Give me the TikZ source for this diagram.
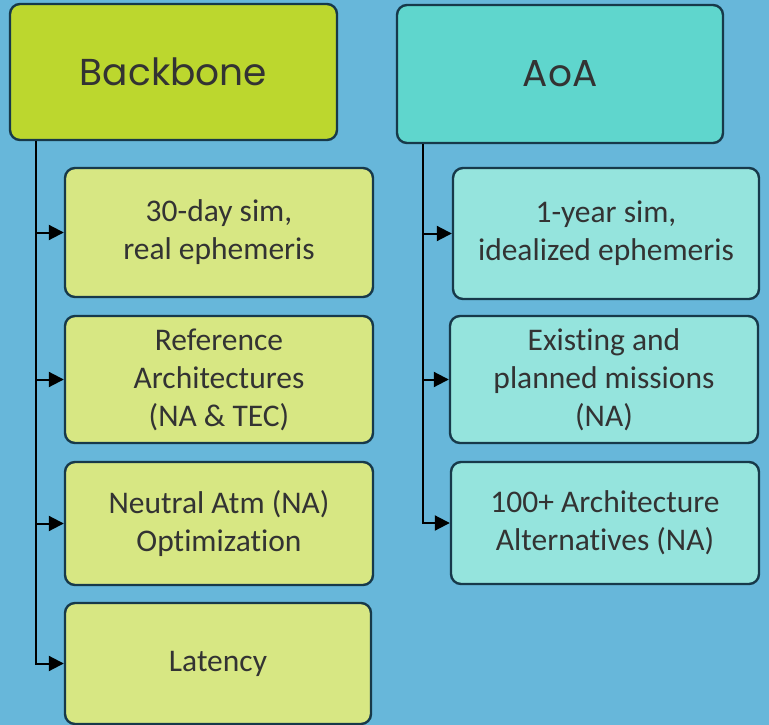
\documentclass[tikz,border=0pt]{standalone}
\usepackage{fontspec}
\setmainfont{Carlito}[Ligatures=NoCommon]
\newfontfamily\headfont{Poppins}
\usetikzlibrary{arrows.meta}
\definecolor{bgblue}{HTML}{67B7DA}
\definecolor{bbfill}{HTML}{BCD72E}
\definecolor{aoafill}{HTML}{5FD6CD}
\definecolor{bbchild}{HTML}{D7E783}
\definecolor{aoachild}{HTML}{95E4DD}
\definecolor{edge}{HTML}{17394A}
\definecolor{txt}{HTML}{333333}
\tikzset{
  box/.style={draw=edge, line width=2.4pt, rounded corners=10pt, text=txt, align=center, inner sep=0pt},
  head/.style={box, font=\headfont\fontsize{37.5}{42}\selectfont},
  child/.style={box, font=\fontsize{31.5}{38}\selectfont},
  conn/.style={draw=black, line width=2pt, -{Triangle[length=15pt,width=15pt]}},
}
\begin{document}
\begin{tikzpicture}[x=1pt,y=-1pt]
\fill[bgblue] (0,0) rectangle (769,725);
\useasboundingbox (0,0) rectangle (769,725);
% Backbone
\node[head, fill=bbfill, minimum width=327, minimum height=136] (bb) at (173.5,72) {Backbone};
\node[child, fill=bbchild, minimum width=308, minimum height=129] (b1) at (219,232.5) {30-day sim,\\real ephemeris};
\node[child, fill=bbchild, minimum width=308, minimum height=127] (b2) at (219,379.5) {Reference\\Architectures\\(NA \& TEC)};
\node[child, fill=bbchild, minimum width=308, minimum height=123] (b3) at (219,523.5) {Neutral Atm (NA)\\Optimization};
\node[child, fill=bbchild, minimum width=306, minimum height=121] (b4) at (218,663.5) {Latency};
% AoA
\node[head, fill=aoafill, minimum width=326, minimum height=138] (aoa) at (560,74) {AoA};
\node[child, fill=aoachild, minimum width=306, minimum height=131] (a1) at (606,233.5) {1-year sim,\\idealized ephemeris};
\node[child, fill=aoachild, minimum width=308, minimum height=127] (a2) at (604,379.5) {Existing and\\planned missions\\(NA)};
\node[child, fill=aoachild, minimum width=308, minimum height=122] (a3) at (605,523) {100+ Architecture\\Alternatives (NA)};
% connectors
\coordinate (bbx) at ([xshift=27]bb.south west);
\coordinate (aoax) at ([xshift=27]aoa.south west);
\foreach \c in {b1,b2,b3,b4} \draw[conn] (bbx) |- (\c.west);
\foreach \c in {a1,a2,a3} \draw[conn] (aoax) |- (\c.west);
\end{tikzpicture}
\end{document}
